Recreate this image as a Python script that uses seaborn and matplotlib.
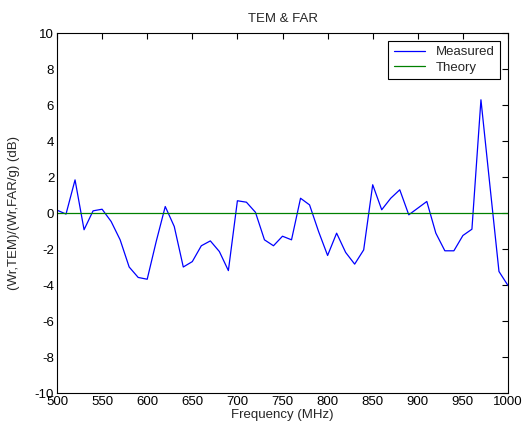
import numpy as np
import pandas as pd
import matplotlib
matplotlib.use("Agg")
import matplotlib.pyplot as plt
import seaborn as sns

# values (10 MHz steps)
freq = list(range(500, 1001, 10))
measured = [0.16, -0.06, 1.84, -0.93, 0.12, 0.21, -0.47, -1.49, -3.0, -3.58,
            -3.68, -1.58, 0.36, -0.75, -3.0, -2.7, -1.82, -1.55, -2.14, -3.2,
            0.68, 0.6, 0.04, -1.49, -1.82, -1.29, -1.49, 0.82, 0.45, -1.03,
            -2.36, -1.12, -2.19, -2.84, -2.05, 1.57, 0.18, 0.82, 1.29, -0.1,
            0.27, 0.64, -1.12, -2.1, -2.1, -1.25, -0.9, 6.29, 1.5, -3.25,
            -4.03]
theory = [0.0] * len(freq)

sns.set_style("white")
plt.rcParams["font.family"] = ["Liberation Sans", "DejaVu Sans"]
plt.rcParams["font.size"] = 9.5
plt.rcParams["axes.unicode_minus"] = False
plt.rcParams["xtick.direction"] = "in"
plt.rcParams["ytick.direction"] = "in"

df = pd.DataFrame({"Frequency": freq, "Measured": measured, "Theory": theory})
long_df = df.melt(id_vars="Frequency", var_name="series", value_name="dB")

fig = plt.figure(figsize=(5.24, 4.26), dpi=100)
ax = fig.add_axes([57 / 524, 33 / 426, 451 / 524, 360 / 426])

sns.lineplot(data=long_df, x="Frequency", y="dB", hue="series",
             palette={"Measured": "#0000ff", "Theory": "#008000"},
             linewidth=0.9, ax=ax)

ax.set_xlim(500, 1000)
ax.set_ylim(-10, 10)
ax.set_xticks(np.arange(500, 1001, 50))
ax.set_yticks(np.arange(-10, 11, 2))
ax.tick_params(top=True, right=True, length=4, width=0.8, colors="black",
               labelsize=9.5, pad=2)
for s in ax.spines.values():
    s.set_color("black")
    s.set_linewidth(0.8)

ax.set_title("TEM & FAR", fontsize=9.5, pad=8)
ax.set_xlabel("Frequency (MHz)", fontsize=9.5, labelpad=1)
ax.set_ylabel("(Wr,TEM)/(Wr,FAR/g) (dB)", fontsize=9.5, labelpad=11)

leg = ax.legend(loc="upper right", frameon=True, fancybox=False,
                edgecolor="black", framealpha=1, fontsize=9.5,
                borderaxespad=0.6, handlelength=2.4, borderpad=0.4,
                labelspacing=0.25, handletextpad=0.8)
leg.get_frame().set_linewidth(0.8)

fig.savefig("out.png", dpi=100)
